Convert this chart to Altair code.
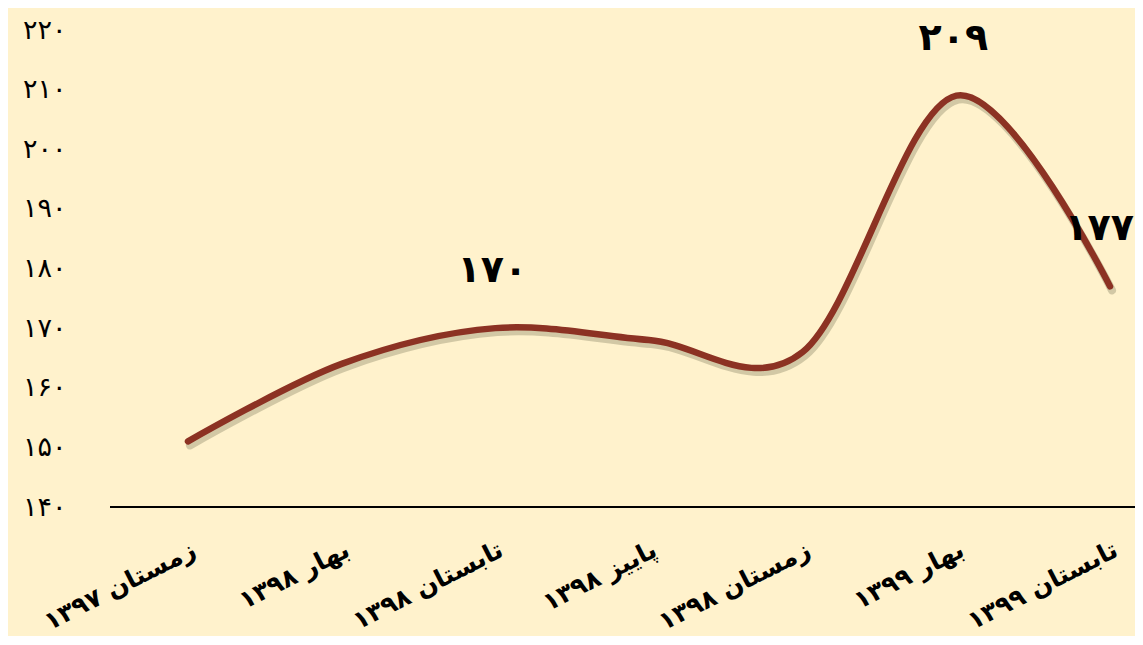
import altair as alt
import pandas as pd

CATEGORIES = [
    "زمستان ۱۳۹۷",
    "بهار ۱۳۹۸",
    "تابستان ۱۳۹۸",
    "پاییز ۱۳۹۸",
    "زمستان ۱۳۹۸",
    "بهار ۱۳۹۹",
    "تابستان ۱۳۹۹",
]
VALUES = [151, 164, 170, 168, 166, 209, 177]
DATA_LABELS = ["", "", "۱۷۰", "", "", "۲۰۹", "۱۷۷"]
Y_TICKS = [140, 150, 160, 170, 180, 190, 200, 210, 220]
Y_TICK_LABELS = ["۱۴۰", "۱۵۰", "۱۶۰", "۱۷۰", "۱۸۰", "۱۹۰", "۲۰۰", "۲۱۰", "۲۲۰"]

df = pd.DataFrame({"cat": CATEGORIES, "value": VALUES, "label": DATA_LABELS})

label_expr = " : ".join(
    f"datum.value == {v} ? '{l}'" for v, l in zip(Y_TICKS, Y_TICK_LABELS)
) + " : ''"

W, H = 1025, 477
FONT = "DejaVu Sans"

x_enc = alt.X(
    "cat:N",
    sort=CATEGORIES,
    scale=alt.Scale(type="point", range=[78, 1000], padding=0),
    axis=alt.Axis(
        title=None,
        labelAngle=333,
        labelFont=FONT,
        labelFontSize=25,
        labelFontWeight="bold",
        labelColor="black",
        labelPadding=30,
        labelAlign="right",
        labelBaseline="top",
        labelBound=False,
        labelOverlap=False,
        ticks=False,
        domain=False,
        grid=False,
    ),
)
y_enc = alt.Y(
    "value:Q",
    scale=alt.Scale(domain=[140, 220], nice=False, zero=False),
    axis=alt.Axis(
        title=None,
        values=Y_TICKS,
        labelExpr=label_expr,
        labelFont=FONT,
        labelFontSize=27,
        labelColor="black",
        labelPadding=44,
        ticks=False,
        domain=False,
        grid=False,
    ),
)

base = alt.Chart(df)
last_cat = CATEGORIES[-1]

shadow = base.mark_line(
    interpolate="cardinal", tension=0, color="#4a4a30", opacity=0.25,
    strokeWidth=8, xOffset=2, yOffset=4, strokeCap="round"
).encode(x=x_enc, y=y_enc)

line = base.mark_line(
    interpolate="cardinal", tension=0, color="#8C3223",
    strokeWidth=6.5, strokeCap="round"
).encode(x=x_enc, y=y_enc)

texts = base.transform_filter(
    alt.datum.cat != last_cat
).mark_text(
    dy=-57, dx=-3, fontSize=38, fontWeight="bold", font=FONT, color="black"
).encode(x=x_enc, y=y_enc, text="label:N")

last_text = base.transform_filter(
    alt.datum.cat == last_cat
).mark_text(
    dy=-57, dx=24, align="right", fontSize=38, fontWeight="bold", font=FONT,
    color="black"
).encode(x=x_enc, y=y_enc, text="label:N")

baseline = base.mark_rule(color="black", strokeWidth=2).encode(
    x=alt.value(0), x2=alt.value(W + 10), y=alt.value(H)
)

chart = (
    alt.layer(baseline, shadow, line, texts, last_text)
    .properties(
        width=W,
        height=H,
        autosize=alt.AutoSizeParams(type="none"),
        padding={"left": 102, "top": 22, "right": 0, "bottom": 129},
        background="#FFF2CC",
    )
    .configure_view(stroke=None)
)

chart.save("out.html", embed_options={"renderer": "svg", "actions": False})
